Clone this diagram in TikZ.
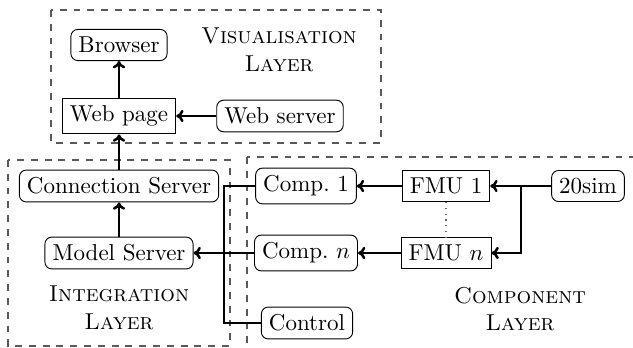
\documentclass[tikz,border=0pt]{standalone}
\usetikzlibrary{arrows.meta}
\begin{document}
\begin{tikzpicture}[x=0.435pt,y=-0.435pt,
  rbox/.style={draw, rounded corners=3pt, inner sep=3.3pt, line width=0.4pt},
  sbox/.style={draw, inner sep=3.3pt, line width=0.4pt},
  layer/.style={draw=black!65, dashed, line width=0.45pt},
  layerlabel/.style={align=center, font=\scshape},
  arr/.style={-{To[length=3.2pt,width=5.4pt]}, line width=1.1pt},
  link/.style={line width=0.95pt}]
\useasboundingbox (0,0) rectangle (633,347);
\clip (0,0) rectangle (633,347);

% layer frames
\draw[layer] (51,10) rectangle (381,143);
\draw[layer] (8,160) rectangle (230,346);
\draw[layer] (247,157) rectangle (660,380);

% visualisation layer
\node[rbox] (br) at (119,45) {Browser};
\node[sbox] (wp) at (119,116) {Web page};
\node[rbox] (ws) at (280,116) {Web server};
\node[layerlabel] (vl) at (279,50) {Visualisation\\Layer};

% integration layer
\node[rbox] (cs) at (119,186) {Connection Server};
\node[rbox] (ms) at (119,253) {Model Server};
\node[layerlabel] (il) at (119,308) {Integration\\Layer};

% component layer
\node[rbox] (c1) at (306,186) {Comp.~1};
\node[rbox] (cn) at (306,253) {Comp.~$n$};
\node[rbox] (ctl) at (307,323) {Control};
\node[sbox] (f1) at (446,186) {FMU 1};
\node[sbox] (fn) at (446,253) {FMU $n$};
\node[rbox] (sim) at (588,186) {20sim};
\node[layerlabel] (cl) at (520,309) {Component\\Layer};

% connectors
\draw[arr] (ms.north) -- (cs.south);
\draw[arr] (cs.north) -- (wp.south);
\draw[arr] (wp.north) -- (br.south);
\draw[arr] (ws.west) -- (wp.east);
\draw[arr] (f1.west) -- (c1.east);
\draw[arr] (fn.west) -- (cn.east);
\draw[arr] (sim.west) -- (f1.east);
\coordinate (split) at (521,186);
\draw[arr] (split) |- (fn.east);
\draw[dotted, line width=0.5pt, black!60] (f1.south) -- (fn.north);

% shared bus towards the model server
\coordinate (bus) at (224,186);
\draw[link] (c1.west) -- (bus) |- (ctl.west);
\draw[arr] (cn.west) -- (ms.east);
\end{tikzpicture}
\end{document}
